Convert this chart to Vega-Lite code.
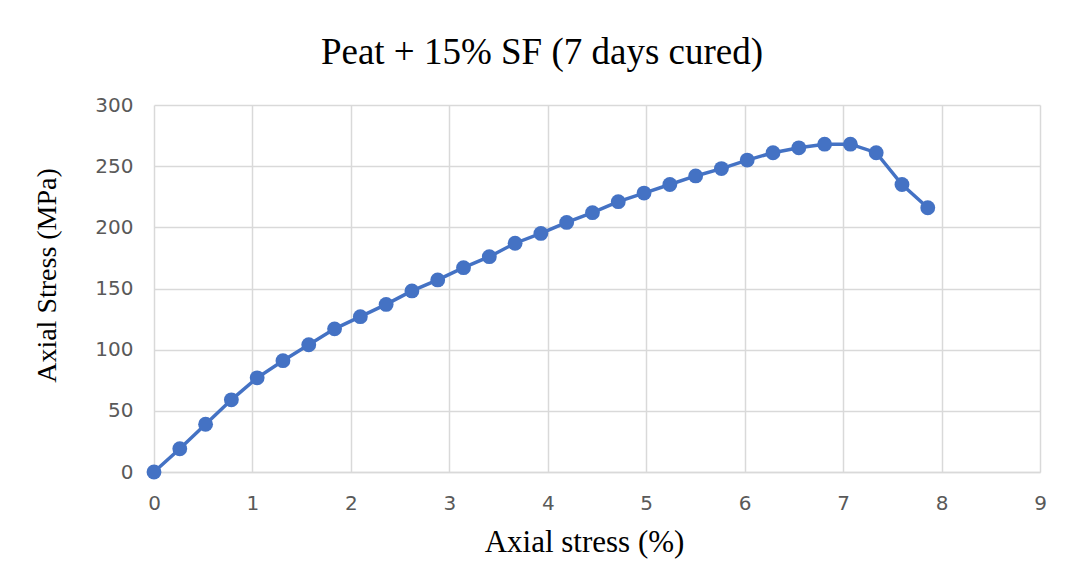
{
  "$schema": "https://vega.github.io/schema/vega-lite/v6.json",
  "width": 886,
  "height": 367,
  "autosize": "none",
  "padding": {"left": 154, "top": 105, "right": 33, "bottom": 109},
  "background": "white",
  "title": {
    "text": "Peat + 15% SF (7 days cured)",
    "font": "Liberation Serif",
    "fontSize": 37,
    "fontWeight": "normal",
    "color": "#000000",
    "anchor": "middle",
    "dx": -55,
    "offset": 23
  },
  "data": {
    "values": [
      {"strain": 0, "stress": 0},
      {"strain": 0.262, "stress": 19},
      {"strain": 0.524, "stress": 39},
      {"strain": 0.786, "stress": 59},
      {"strain": 1.048, "stress": 77},
      {"strain": 1.31, "stress": 91},
      {"strain": 1.572, "stress": 104},
      {"strain": 1.834, "stress": 117},
      {"strain": 2.096, "stress": 127},
      {"strain": 2.358, "stress": 137},
      {"strain": 2.62, "stress": 148},
      {"strain": 2.882, "stress": 157},
      {"strain": 3.144, "stress": 167},
      {"strain": 3.406, "stress": 176},
      {"strain": 3.668, "stress": 187},
      {"strain": 3.93, "stress": 195},
      {"strain": 4.192, "stress": 204},
      {"strain": 4.454, "stress": 212},
      {"strain": 4.716, "stress": 221},
      {"strain": 4.978, "stress": 228},
      {"strain": 5.24, "stress": 235},
      {"strain": 5.502, "stress": 242},
      {"strain": 5.764, "stress": 248},
      {"strain": 6.026, "stress": 255},
      {"strain": 6.288, "stress": 261},
      {"strain": 6.55, "stress": 265},
      {"strain": 6.812, "stress": 268},
      {"strain": 7.074, "stress": 268},
      {"strain": 7.336, "stress": 261},
      {"strain": 7.598, "stress": 235},
      {"strain": 7.86, "stress": 216}
    ]
  },
  "encoding": {
    "x": {
      "field": "strain",
      "type": "quantitative",
      "scale": {"domain": [0, 9], "nice": false, "zero": true},
      "axis": {
        "title": "Axial stress (%)",
        "values": [0, 1, 2, 3, 4, 5, 6, 7, 8, 9],
        "format": "d",
        "grid": true,
        "gridColor": "#d9d9d9",
        "gridWidth": 1.5,
        "domain": true,
        "domainColor": "#d9d9d9",
        "domainWidth": 1.5,
        "ticks": false,
        "labelFlush": false,
        "labelFont": "DejaVu Sans",
        "labelFontSize": 20,
        "labelColor": "#595959",
        "labelPadding": 21,
        "titleFont": "Liberation Serif",
        "titleFontSize": 31,
        "titleFontWeight": "normal",
        "titleColor": "#000000",
        "titleBaseline": "alphabetic",
        "titleX": 430,
        "titleY": 79
      }
    },
    "y": {
      "field": "stress",
      "type": "quantitative",
      "scale": {"domain": [0, 300], "nice": false},
      "axis": {
        "title": "Axial Stress (MPa)",
        "values": [0, 50, 100, 150, 200, 250, 300],
        "grid": true,
        "gridColor": "#d9d9d9",
        "gridWidth": 1.5,
        "domain": false,
        "ticks": false,
        "labelFont": "DejaVu Sans",
        "labelFontSize": 20,
        "labelColor": "#595959",
        "labelPadding": 21,
        "titleFont": "Liberation Serif",
        "titleFontSize": 28,
        "titleFontWeight": "normal",
        "titleColor": "#000000",
        "titleBaseline": "alphabetic",
        "titleAlign": "center",
        "titleX": -99,
        "titleY": 170
      }
    }
  },
  "layer": [
    {"mark": {"type": "line", "color": "#4472C4", "strokeWidth": 3.5}},
    {"mark": {"type": "point", "filled": true, "opacity": 1, "color": "#4472C4", "size": 220}}
  ],
  "config": {
    "view": {"stroke": null}
  }
}
